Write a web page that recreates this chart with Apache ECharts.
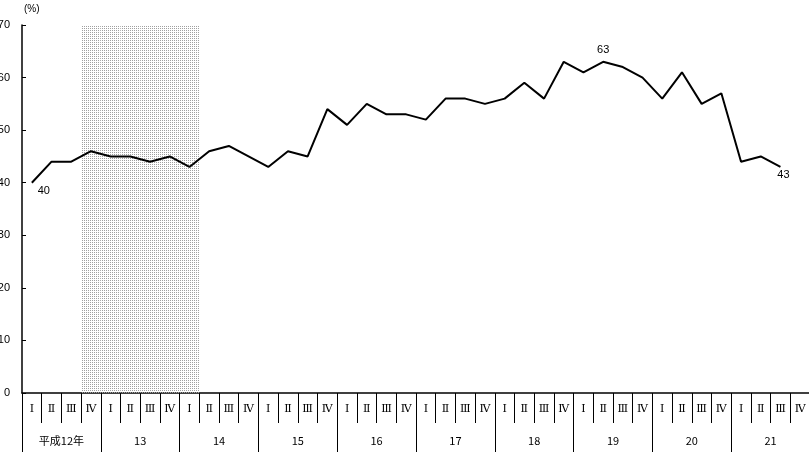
<!DOCTYPE html>
<html><head><meta charset="utf-8">
<script src="https://cdn.jsdelivr.net/npm/echarts@6/dist/echarts.min.js"></script>
<style>html,body{margin:0;padding:0;background:#fff}#c{width:809px;height:452px}</style>
</head><body><div id="c"></div>
<script>
var quarterLabels = ['Ⅰ','Ⅱ','Ⅲ','Ⅳ'];
var yearLabels = ['平成12年','13','14','15','16','17','18','19','20','21'];
var values = [40,44,44,46, 45,45,44,45, 43,46,47,45, 43,46,45,54, 51,55,53,53,
              52,56,56,55, 56,59,56,63, 61,63,62,60, 56,61,55,57, 44,45,43,null];
var shadedQuarters = [3,4,5,6,7,8]; // recession period (12年IV - 14年I)
var labeledPoints = [0, 29, 38];

var categories = [];
yearLabels.forEach(function(y){ quarterLabels.forEach(function(q){ categories.push(y+'-'+q); }); });

var pc = document.createElement('canvas'); pc.width = 2; pc.height = 2;
var pctx = pc.getContext('2d'); pctx.fillStyle = '#a0a0a0'; pctx.fillRect(0,0,1,1);

var labelStyles = {
  0:  {position: 'bottom', offset: [12, -3]},
  29: {position: 'top', offset: [0, 0]},
  38: {position: 'bottom', offset: [3, -3]}
};
var shadeData = categories.map(function(c,i){ return shadedQuarters.indexOf(i) >= 0 ? 70 : null; });
var lineData = values.map(function(v,i){
  if (labeledPoints.indexOf(i) < 0) return v;
  var s = labelStyles[i];
  return {value: v, label: {show: true, position: s.position, offset: s.offset,
    color:'#000', fontSize: 11, fontFamily: 'Liberation Sans'}};
});

var chart = echarts.init(document.getElementById('c'));
chart.setOption({
  animation: false,
  title: {text: '(%)', left: 19, top: -1, textStyle: {fontSize: 10, fontWeight: 'normal', color: '#000', fontFamily: 'Liberation Sans'}},
  grid: {left: 22, top: 25, width: 788, height: 368, containLabel: false, outerBoundsMode: 'none'},
  xAxis: [{
    type: 'category', data: categories, position: 'bottom',
    axisLine: {lineStyle: {color: '#000', width: 1.5}},
    axisTick: {show: true, interval: 0, length: 30, lineStyle: {color: '#000', width: 1}},
    axisLabel: {interval: 0, margin: 11, fontSize: 11, color: '#000', fontFamily: 'DejaVu Serif',
      formatter: function(v){ return v.split('-')[1]; }}
  },{
    type: 'category', data: yearLabels, position: 'bottom',
    axisLine: {show: false},
    axisTick: {show: true, interval: 0, length: 60, lineStyle: {color: '#000', width: 1}},
    axisLabel: {interval: 0, margin: 42, fontSize: 11, color: '#000', fontFamily: 'Noto Sans CJK JP'}
  }],
  yAxis: {
    type: 'value', min: 0, max: 70, interval: 10,
    axisLine: {show: true, lineStyle: {color: '#000', width: 1.5}},
    axisTick: {show: true, inside: true, length: 4, lineStyle: {color: '#000'}},
    splitLine: {show: false},
    axisLabel: {margin: 12, fontSize: 11, color: '#000', fontFamily: 'Liberation Sans'}
  },
  series: [{
    type: 'bar', data: shadeData, xAxisIndex: 0, barWidth: '100%', barGap: '-100%',
    itemStyle: {color: {image: pc, repeat: 'repeat'}}, silent: true, z: 1
  },{
    type: 'line', data: lineData, xAxisIndex: 0, showSymbol: true, symbol: 'circle', symbolSize: 2,
    itemStyle: {color: 'rgba(0,0,0,0)', borderWidth: 0},
    lineStyle: {color: '#000', width: 2}, z: 3
  }]
});
</script></body></html>
